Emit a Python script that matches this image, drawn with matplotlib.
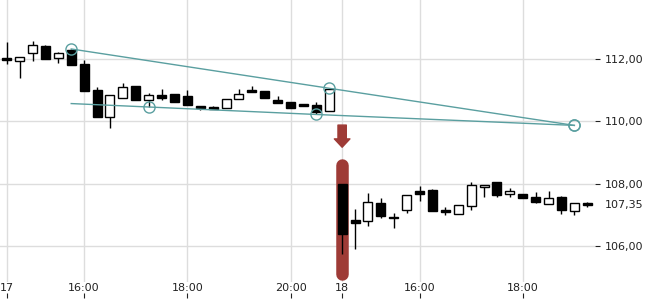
import numpy as np
import matplotlib.pyplot as plt

# 15-minute candles, two sessions (17th and 18th)
opens = [112.00, 111.93, 112.18, 112.42, 112.04, 112.29, 111.83, 110.99, 110.15, 110.76,
         111.13, 110.67, 110.86, 110.87, 110.81, 110.48, 110.46, 110.44, 110.71, 110.96,
         110.97, 110.68, 110.62, 110.52, 110.54, 110.32,
         108.00, 106.79, 106.82, 107.38, 106.93, 107.17, 107.76, 107.80, 107.13, 107.03,
         107.30, 107.89, 108.05, 107.67, 107.68, 107.58, 107.35, 107.58, 107.14, 107.35]
highs = [112.54, 112.05, 112.56, 112.45, 112.23, 112.32, 111.96, 111.10, 110.86, 111.23,
         111.13, 110.90, 111.05, 110.87, 111.00, 110.48, 110.50, 110.73, 111.05, 111.13,
         110.97, 110.82, 110.62, 110.56, 110.62, 111.05,
         108.00, 107.19, 107.70, 107.53, 107.05, 107.64, 107.93, 107.83, 107.24, 107.31,
         108.06, 107.96, 108.05, 107.85, 107.68, 107.75, 107.77, 107.62, 107.38, 107.40]
lows = [111.83, 111.38, 111.95, 112.00, 111.88, 111.82, 110.98, 110.14, 109.78, 110.76,
        110.67, 110.46, 110.69, 110.62, 110.52, 110.35, 110.40, 110.44, 110.71, 110.95,
        110.75, 110.60, 110.42, 110.48, 110.22, 110.32,
        105.75, 105.90, 106.63, 106.91, 106.59, 107.07, 107.46, 107.14, 107.01, 107.03,
        107.15, 107.59, 107.58, 107.59, 107.54, 107.37, 107.35, 107.03, 107.00, 107.24]
closes = [112.00, 112.05, 112.44, 112.00, 112.18, 111.82, 110.98, 110.14, 110.86, 111.11,
          110.67, 110.86, 110.75, 110.62, 110.52, 110.42, 110.40, 110.73, 110.89, 110.97,
          110.75, 110.60, 110.42, 110.52, 110.30, 111.05,
          106.40, 106.80, 107.41, 106.98, 106.89, 107.64, 107.68, 107.14, 107.13, 107.31,
          107.96, 107.96, 107.64, 107.77, 107.54, 107.43, 107.54, 107.16, 107.38, 107.35]

tick_pos = [0, 6, 14, 22, 26, 32, 40]
tick_labels = ['17', '16:00', '18:00', '20:00', '18', '16:00', '18:00']
price_ticks = [106, 108, 110, 112]
last_price = 107.35

# wedge trendlines
upper_x = [5, 25, 44]
upper_y = [112.32, 111.06, 109.87]
lower_x = [5, 11, 24, 44]
lower_y = [110.57, 110.46, 110.22, 109.87]

gap_idx = 26  # highlighted gap candle

teal = '#5a9fa0'
red = '#9e3b36'

fig = plt.figure(figsize=(6.5, 3), dpi=100)
ax = fig.add_axes([0, 18 / 300, 595 / 650, 282 / 300])

x = np.arange(len(opens))
o = np.array(opens)
h = np.array(highs)
l = np.array(lows)
c = np.array(closes)
doji = np.abs(c - o) < 0.02
up = (c >= o) & ~doji
bottoms = np.where(doji, o - 0.035, np.minimum(o, c))
heights = np.where(doji, 0.07, np.abs(c - o))

ax.vlines(x, l, h, color='black', lw=1, zorder=3)
ax.bar(x, heights, 0.7, bottoms, color=np.where(up, 'white', 'black'),
       edgecolor='black', lw=1, zorder=4)

# highlight around the gap candle + arrow above
ax.plot([gap_idx, gap_idx], [h[gap_idx] + 0.61, l[gap_idx] - 0.64], color=red,
        lw=9, solid_capstyle='round', zorder=2)
ax.annotate('', xy=(gap_idx, h[gap_idx] + 1.17), xytext=(gap_idx, h[gap_idx] + 1.88),
            arrowprops=dict(arrowstyle='simple,head_length=0.3,head_width=0.56,tail_width=0.3',
                            color=red, shrinkA=0, shrinkB=0, mutation_scale=20), zorder=2)

ax.plot(upper_x, upper_y, color=teal, lw=1, marker='o', mfc='none', mec=teal,
        ms=8, mew=1, zorder=5)
ax.plot(lower_x, lower_y, color=teal, lw=1, marker='o', mfc='none', mec=teal,
        ms=8, mew=1, markevery=[1, 2, 3], zorder=5)

ax.set_xlim(-0.52, 45.6)
ax.set_ylim(104.85, 113.89)

for s in ax.spines.values():
    s.set_visible(False)
ax.grid(color='#dddddd', lw=1)
ax.set_axisbelow(True)

ax.set_xticks(tick_pos, tick_labels)
ax.tick_params(axis='x', length=0, pad=0.5, labelsize=8, labelcolor='#222222')
sec = ax.secondary_xaxis(-11 / 282)
sec.set_xticks(tick_pos)
sec.tick_params(length=3.6, direction='out', labelbottom=False, color='#222222')
sec.spines['bottom'].set_visible(False)

ax.yaxis.tick_right()
ax.set_yticks(price_ticks, [f'{v:.2f}'.replace('.', ',') for v in price_ticks])
ax.set_yticks([last_price], [f'{last_price:.2f}'.replace('.', ',')], minor=True)
ax.tick_params(axis='y', which='major', length=3.6, pad=3.5, labelsize=8,
               labelcolor='#222222', color='#222222')
ax.tick_params(axis='y', which='minor', length=0, pad=7.1, labelsize=8,
               labelcolor='#222222')

fig.savefig('out.png', dpi=100)
